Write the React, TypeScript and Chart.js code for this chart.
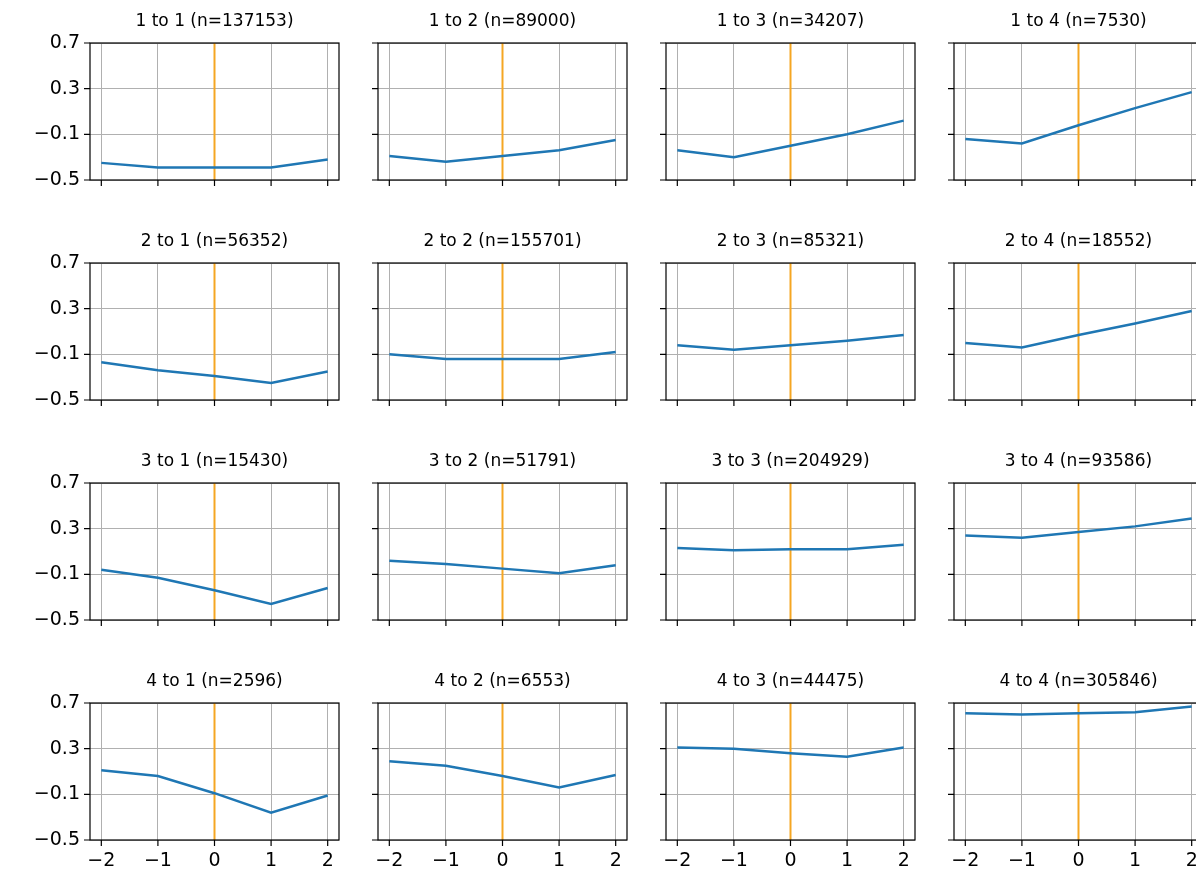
import { useEffect, useRef } from 'react';
import Chart from 'chart.js/auto';

const xValues = [-2, -1, 0, 1, 2];
const yTicks = [-0.5, -0.1, 0.3, 0.7];

const titles = [
  '1 to 1 (n=137153)', '1 to 2 (n=89000)', '1 to 3 (n=34207)', '1 to 4 (n=7530)',
  '2 to 1 (n=56352)', '2 to 2 (n=155701)', '2 to 3 (n=85321)', '2 to 4 (n=18552)',
  '3 to 1 (n=15430)', '3 to 2 (n=51791)', '3 to 3 (n=204929)', '3 to 4 (n=93586)',
  '4 to 1 (n=2596)', '4 to 2 (n=6553)', '4 to 3 (n=44475)', '4 to 4 (n=305846)',
];

const series = [
  [-0.35, -0.39, -0.39, -0.39, -0.32],
  [-0.29, -0.34, -0.29, -0.24, -0.15],
  [-0.24, -0.3, -0.2, -0.1, 0.02],
  [-0.14, -0.18, -0.02, 0.13, 0.27],
  [-0.17, -0.24, -0.29, -0.35, -0.25],
  [-0.1, -0.14, -0.14, -0.14, -0.08],
  [-0.02, -0.06, -0.02, 0.02, 0.07],
  [0.0, -0.04, 0.07, 0.17, 0.28],
  [-0.06, -0.13, -0.24, -0.36, -0.22],
  [0.02, -0.01, -0.05, -0.09, -0.02],
  [0.13, 0.11, 0.12, 0.12, 0.16],
  [0.24, 0.22, 0.27, 0.32, 0.39],
  [0.11, 0.06, -0.09, -0.26, -0.11],
  [0.19, 0.15, 0.06, -0.04, 0.07],
  [0.31, 0.3, 0.26, 0.23, 0.31],
  [0.61, 0.6, 0.61, 0.62, 0.67],
];

const colLefts = [90, 378, 666, 954];
const rowTops = [43, 263, 483, 703];
const plotW = 249;
const plotH = 137;
const padL = 90;
const padB = 45;
const padT = 26;
const padR = 14;

const fmt = (v: number, d: number) => v.toFixed(d).replace('-', '\u2212');

const framePlugin = {
  id: 'frame',
  afterDraw(chart: any) {
    const { ctx, chartArea: a, scales } = chart;
    ctx.save();
    ctx.strokeStyle = '#000';
    ctx.lineWidth = 1.2;
    ctx.strokeRect(a.left, a.top, a.right - a.left, a.bottom - a.top);
    ctx.beginPath();
    for (const v of xValues) {
      const x = scales.x.getPixelForValue(v);
      ctx.moveTo(x, a.bottom);
      ctx.lineTo(x, a.bottom + 6);
    }
    for (const v of yTicks) {
      const y = scales.y.getPixelForValue(v);
      ctx.moveTo(a.left, y);
      ctx.lineTo(a.left - 6, y);
    }
    ctx.stroke();
    ctx.restore();
  },
};

function Panel({ idx }: { idx: number }) {
  const ref = useRef<HTMLCanvasElement>(null);
  const row = Math.floor(idx / 4);
  const col = idx % 4;

  useEffect(() => {
    if (!ref.current) return;
    const chart = new Chart(ref.current, {
      type: 'line',
      data: {
        datasets: [
          {
            data: xValues.map((x, i) => ({ x, y: series[idx][i] })),
            borderColor: '#1f77b4',
            borderWidth: 2.5,
            pointRadius: 0,
            tension: 0,
          },
          {
            data: [{ x: 0, y: -0.5 }, { x: 0, y: 0.7 }],
            borderColor: '#f5a623',
            borderWidth: 2,
            pointRadius: 0,
          },
        ],
      },
      options: {
        animation: false,
        responsive: false,
        maintainAspectRatio: false,
        layout: { padding: { top: padT, right: padR, left: 0, bottom: 0 } },
        plugins: { legend: { display: false }, tooltip: { enabled: false } },
        scales: {
          x: {
            type: 'linear',
            min: -2.2,
            max: 2.2,
            afterBuildTicks: (s: any) => { s.ticks = xValues.map((v) => ({ value: v })); },
            afterFit: (s: any) => { s.height = padB; },
            grid: { color: '#b0b0b0', lineWidth: 1, drawTicks: false },
            border: { display: false },
            ticks: {
              display: row === 3,
              padding: 10,
              color: '#000',
              font: { family: 'DejaVu Sans', size: 19 },
              callback: (v: any) => fmt(Number(v), 0),
            },
          },
          y: {
            min: -0.5,
            max: 0.7,
            afterBuildTicks: (s: any) => { s.ticks = yTicks.map((v) => ({ value: v })); },
            afterFit: (s: any) => { s.width = padL; },
            grid: { color: '#b0b0b0', lineWidth: 1, drawTicks: false },
            border: { display: false },
            ticks: {
              display: col === 0,
              padding: 10,
              color: '#000',
              font: { family: 'DejaVu Sans', size: 19 },
              callback: (v: any) => fmt(Number(v), 1),
            },
          },
        },
      },
      plugins: [framePlugin],
    });
    return () => chart.destroy();
  }, [idx]);

  const left = colLefts[col] - padL;
  const top = rowTops[row] - padT;
  const w = plotW + padL + padR;
  const h = plotH + padT + padB;

  return (
    <>
      <div style={{ position: 'absolute', left, top, width: w, height: h }}>
        <canvas ref={ref} width={w} height={h} style={{ width: w, height: h }} />
      </div>
      <div
        style={{
          position: 'absolute',
          left: colLefts[col],
          width: plotW,
          top: rowTops[row] - 33,
          textAlign: 'center',
          font: '17px "DejaVu Sans"',
          color: '#000',
        }}
      >
        {titles[idx]}
      </div>
    </>
  );
}

export default function App() {
  return (
    <div style={{ position: 'fixed', left: 0, top: 0, width: 1196, height: 886, background: '#fff', overflow: 'hidden' }}>
      {titles.map((_, i) => (
        <Panel key={i} idx={i} />
      ))}
    </div>
  );
}
